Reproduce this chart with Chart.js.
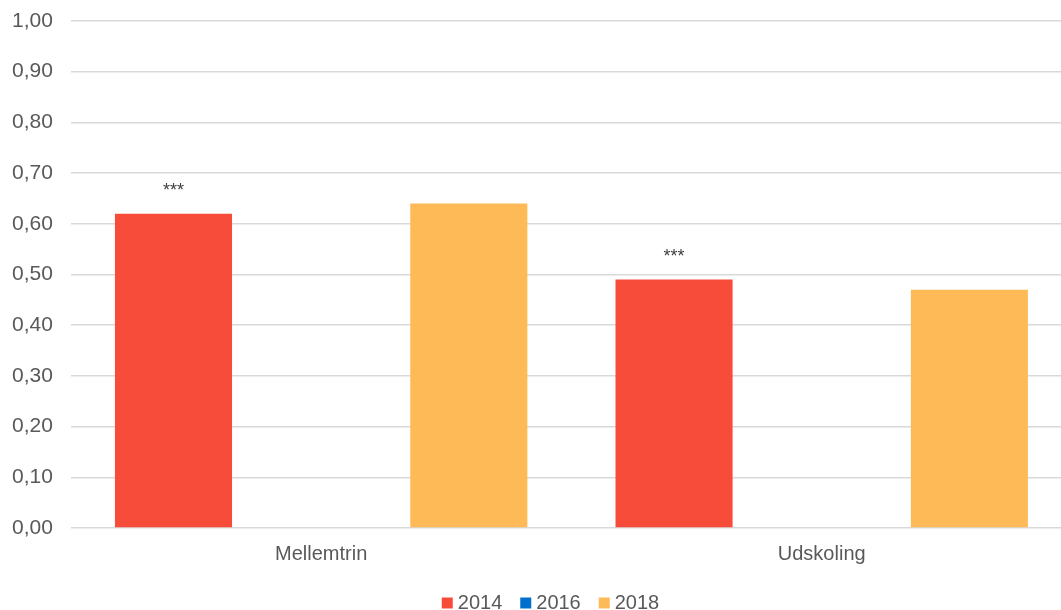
<!DOCTYPE html>
<html>
<head>
<meta charset="utf-8">
<script src="https://cdn.jsdelivr.net/npm/chart.js@4"></script>
<style>
  html, body { margin: 0; padding: 0; background: #fff; overflow: hidden; }
  #wrap { width: 1072px; height: 610px; }
</style>
</head>
<body>
<div id="wrap"><canvas id="chart" width="1072" height="610"></canvas></div>
<script>
// kategorier og serier
const categories = ['Mellemtrin', 'Udskoling'];
const years = ['2014', '2016', '2018'];
const values2014 = [0.62, 0.49];
const values2016 = [null, null];
const values2018 = [0.64, 0.47];
const stars2014 = ['***', '***'];
const colors = ['#F84C3B', '#0070CC', '#FFBA58'];

const font = '"Liberation Sans", Arial, sans-serif';

// tegner stjernerne over 2014-søjlerne
const starPlugin = {
    id: 'stars',
    afterDatasetsDraw(chart) {
        const ctx = chart.ctx;
        const meta = chart.getDatasetMeta(0);
        ctx.save();
        ctx.font = '18px ' + font;
        ctx.fillStyle = '#404040';
        ctx.textAlign = 'center';
        ctx.textBaseline = 'top';
        meta.data.forEach((bar, i) => {
            if (!stars2014[i]) return;
            ctx.fillText(stars2014[i], bar.x, bar.y - 32);
        });
        ctx.restore();
    }
};

// flytter forklaringen lidt til højre
const legendShift = {
    id: 'legendShift',
    afterLayout(chart) {
        chart.legend.left += 20;
        chart.legend.right += 20;
    }
};

const ctx = document.getElementById('chart').getContext('2d');
const chart = new Chart(ctx, {
    type: 'bar',
    data: {
        labels: categories,
        datasets: [
            { label: years[0], data: values2014, backgroundColor: colors[0] },
            { label: years[1], data: values2016, backgroundColor: colors[1] },
            { label: years[2], data: values2018, backgroundColor: colors[2] }
        ]
    },
    options: {
        responsive: false,
        animation: false,
        categoryPercentage: 0.885,
        barPercentage: 0.793,
        layout: { padding: { left: -6, right: 0, top: 0, bottom: -13 } },
        plugins: {
            tooltip: { enabled: false },
            legend: {
                position: 'bottom',
                labels: {
                    usePointStyle: true,
                    pointStyle: 'rect',
                    boxWidth: 1,
                    boxHeight: 11,
                    padding: 23,
                    color: '#595959',
                    font: { size: 20, family: font }
                }
            }
        },
        scales: {
            x: {
                grid: { display: false },
                border: { display: false },
                ticks: {
                    color: '#595959',
                    padding: 6,
                    font: { size: 20, family: font }
                },
                afterFit(scale) { scale.height -= 2; }
            },
            y: {
                min: 0,
                max: 1,
                border: { display: false },
                grid: { color: '#D9D9D9', lineWidth: 1.5, drawTicks: false },
                ticks: {
                    stepSize: 0.1,
                    padding: 18,
                    color: '#595959',
                    font: { size: 21, family: font },
                    callback: v => v.toFixed(2).replace('.', ',')
                },
                // øverste gitterlinje tæt på kanten
                afterFit(scale) { scale.paddingTop = 21; }
            }
        }
    },
    plugins: [starPlugin, legendShift]
});
</script>
</body>
</html>
